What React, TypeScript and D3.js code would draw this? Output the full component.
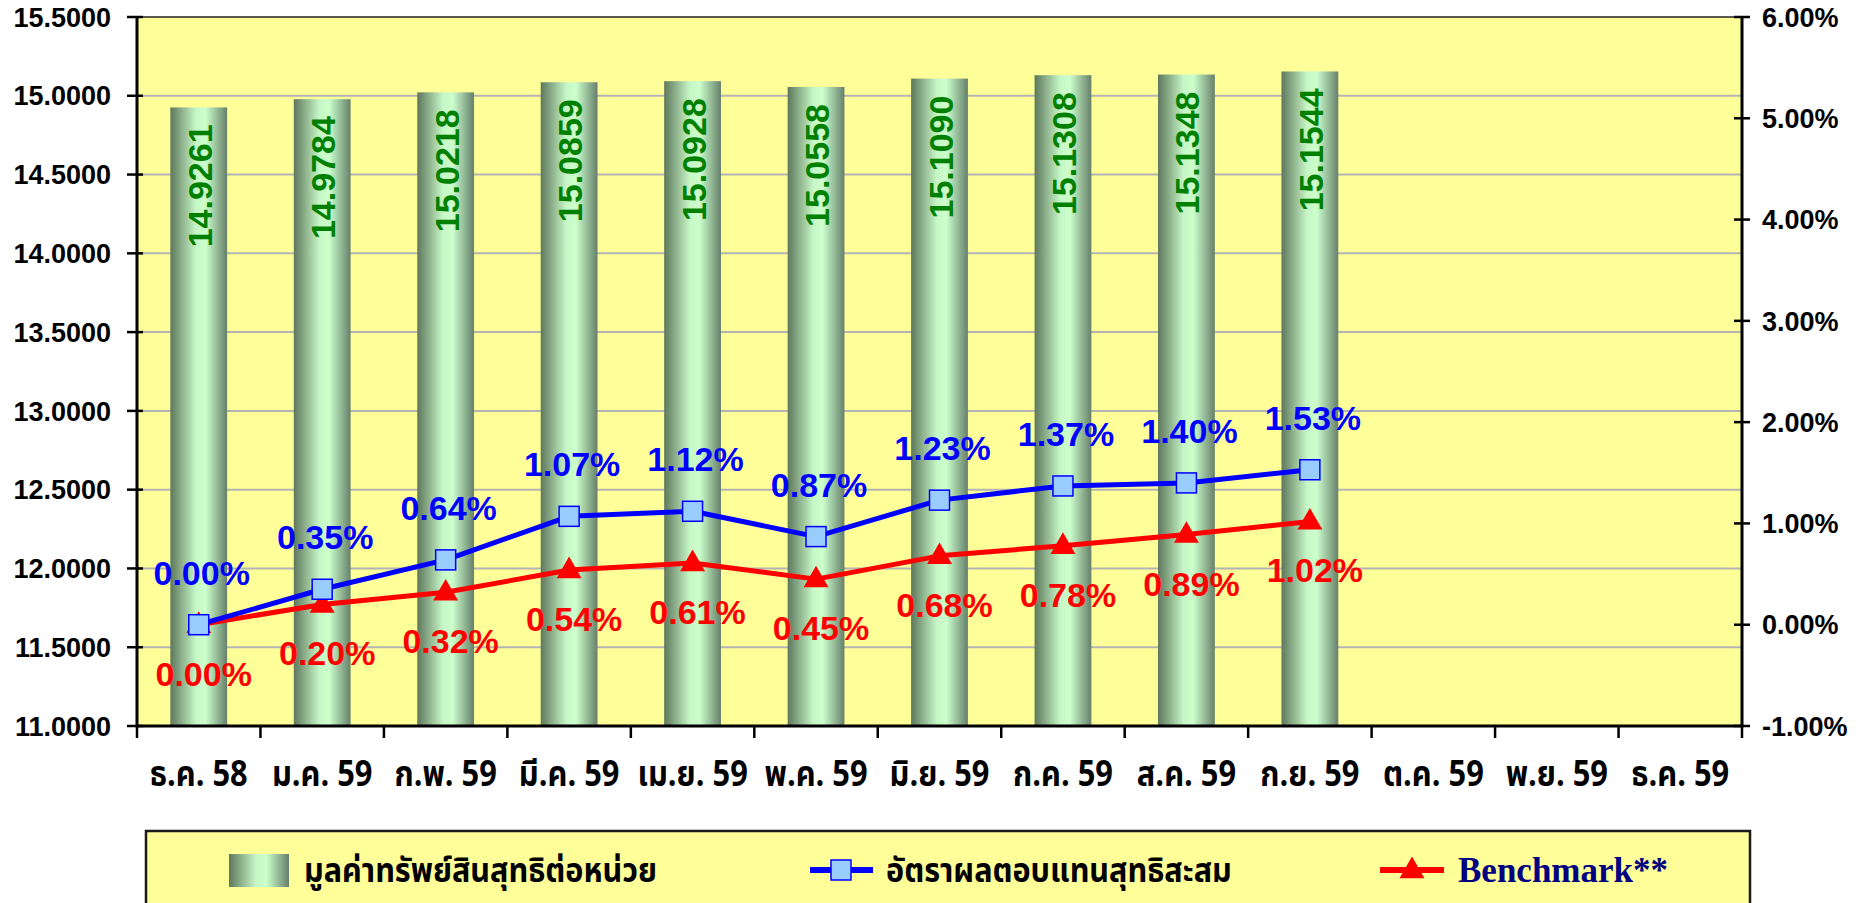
import { useEffect, useRef } from "react"
import * as d3 from "d3"

const categories = [
  "ธ.ค. 58", "ม.ค. 59", "ก.พ. 59", "มี.ค. 59", "เม.ย. 59", "พ.ค. 59", "มิ.ย. 59",
  "ก.ค. 59", "ส.ค. 59", "ก.ย. 59", "ต.ค. 59", "พ.ย. 59", "ธ.ค. 59",
]
const navValues = [14.9261, 14.9784, 15.0218, 15.0859, 15.0928, 15.0558, 15.109, 15.1308, 15.1348, 15.1544]
const returnValues = [0.0, 0.35, 0.64, 1.07, 1.12, 0.87, 1.23, 1.37, 1.4, 1.53]
const benchmarkValues = [0.0, 0.2, 0.32, 0.54, 0.61, 0.45, 0.68, 0.78, 0.89, 1.02]
const leftTicks = [11, 11.5, 12, 12.5, 13, 13.5, 14, 14.5, 15, 15.5]
const rightTicks = [-1, 0, 1, 2, 3, 4, 5, 6]
const legendLabels = ["มูลค่าทรัพย์สินสุทธิต่อหน่วย", "อัตราผลตอบแทนสุทธิสะสม", "Benchmark**"]

const W = 1865
const H = 903
const thaiFont = "'Noto Sans Thai', 'Noto Sans', Tahoma, sans-serif"
const numFont = "'Liberation Sans', Arial, sans-serif"

export default function App() {
  const svgRef = useRef<SVGSVGElement>(null)

  useEffect(() => {
    if (!svgRef.current) return
    const svg = d3.select(svgRef.current)
    svg.selectAll("*").remove()

    const plot = { left: 137, right: 1742, top: 17, bottom: 726 }

    const x = d3.scaleBand().domain(categories).range([plot.left, plot.right]).padding(0)
    const yL = d3.scaleLinear().domain([11, 15.5]).range([plot.bottom, plot.top])
    const yR = d3.scaleLinear().domain([-1, 6]).range([plot.bottom, plot.top])
    const cx = (i: number) => (x(categories[i]) || 0) + x.bandwidth() / 2
    const barW = x.bandwidth() * 0.46

    const defs = svg.append("defs")
    const grad = defs.append("linearGradient").attr("id", "barGrad").attr("x1", "0").attr("x2", "1").attr("y1", "0").attr("y2", "0")
    grad.append("stop").attr("offset", "0").attr("stop-color", "#5e775c")
    grad.append("stop").attr("offset", "0.45").attr("stop-color", "#c6f7c6")
    grad.append("stop").attr("offset", "0.62").attr("stop-color", "#ccffcc")
    grad.append("stop").attr("offset", "1").attr("stop-color", "#66806a")

    // plot background
    svg.append("rect")
      .attr("x", plot.left).attr("y", plot.top)
      .attr("width", plot.right - plot.left).attr("height", plot.bottom - plot.top)
      .attr("fill", "#ffff99")

    // gridlines
    leftTicks.filter((t) => t > 11 && t < 15.5).forEach((t) => {
      svg.append("line")
        .attr("x1", plot.left).attr("x2", plot.right)
        .attr("y1", yL(t)).attr("y2", yL(t))
        .attr("stroke", "#b4b4b4").attr("stroke-width", 2)
    })

    // top border
    svg.append("line")
      .attr("x1", plot.left).attr("x2", plot.right)
      .attr("y1", plot.top).attr("y2", plot.top)
      .attr("stroke", "#222").attr("stroke-width", 1.5)

    // bars
    navValues.forEach((v, i) => {
      svg.append("rect")
        .attr("x", cx(i) - barW / 2).attr("y", yL(v))
        .attr("width", barW).attr("height", plot.bottom - yL(v))
        .attr("fill", "url(#barGrad)")
      svg.append("text")
        .attr("transform", `translate(${cx(i)},${yL(v)}) rotate(-90)`)
        .attr("x", -17).attr("y", 13)
        .attr("text-anchor", "end")
        .attr("fill", "#008000")
        .attr("font-family", numFont).attr("font-weight", "700").attr("font-size", 34)
        .text(v.toFixed(4))
    })

    // axes lines
    svg.append("line").attr("x1", plot.left).attr("x2", plot.left).attr("y1", plot.top).attr("y2", plot.bottom)
      .attr("stroke", "#000").attr("stroke-width", 3)
    svg.append("line").attr("x1", plot.right).attr("x2", plot.right).attr("y1", plot.top).attr("y2", plot.bottom)
      .attr("stroke", "#000").attr("stroke-width", 3)
    svg.append("line").attr("x1", plot.left - 1.5).attr("x2", plot.right + 1.5).attr("y1", plot.bottom).attr("y2", plot.bottom)
      .attr("stroke", "#000").attr("stroke-width", 3)

    // left ticks + labels
    leftTicks.forEach((t) => {
      svg.append("line").attr("x1", plot.left - 10).attr("x2", plot.left + 6).attr("y1", yL(t)).attr("y2", yL(t))
        .attr("stroke", "#000").attr("stroke-width", 2.5)
      svg.append("text")
        .attr("x", 111).attr("y", yL(t))
        .attr("dy", "0.36em")
        .attr("text-anchor", "end")
        .attr("font-family", numFont).attr("font-weight", "700").attr("font-size", 27)
        .attr("fill", "#000")
        .text(t.toFixed(4))
    })

    // right ticks + labels
    rightTicks.forEach((t) => {
      svg.append("line").attr("x1", plot.right - 8).attr("x2", plot.right + 8).attr("y1", yR(t)).attr("y2", yR(t))
        .attr("stroke", "#000").attr("stroke-width", 2.5)
      svg.append("text")
        .attr("x", 1762).attr("y", yR(t))
        .attr("dy", "0.36em")
        .attr("text-anchor", "start")
        .attr("font-family", numFont).attr("font-weight", "700").attr("font-size", 27)
        .attr("fill", "#000")
        .text(`${t.toFixed(2)}%`)
    })

    // bottom ticks + labels
    d3.range(categories.length + 1).forEach((i) => {
      const tx = plot.left + i * x.bandwidth()
      svg.append("line").attr("x1", tx).attr("x2", tx).attr("y1", plot.bottom).attr("y2", plot.bottom + 12)
        .attr("stroke", "#000").attr("stroke-width", 2.5)
    })
    categories.forEach((c, i) => {
      svg.append("text")
        .attr("transform", `translate(${cx(i)},786) scale(0.88,1)`)
        .attr("text-anchor", "middle")
        .attr("font-family", thaiFont).attr("font-weight", "700").attr("font-size", 35)
        .attr("fill", "#000")
        .text(c)
    })

    // lines
    const lineGen = d3.line<number>().x((_, i) => cx(i)).y((d) => yR(d))
    svg.append("path").attr("d", lineGen(benchmarkValues) || "")
      .attr("fill", "none").attr("stroke", "#ff0000").attr("stroke-width", 5).attr("stroke-linejoin", "round")
    svg.append("path").attr("d", lineGen(returnValues) || "")
      .attr("fill", "none").attr("stroke", "#0000ff").attr("stroke-width", 5).attr("stroke-linejoin", "round")

    const tri = d3.symbol().type(d3.symbolTriangle).size(270)
    benchmarkValues.forEach((v, i) => {
      svg.append("path").attr("d", tri() || "")
        .attr("transform", `translate(${cx(i)},${yR(v) + 1})`)
        .attr("fill", "#ff0000")
    })
    returnValues.forEach((v, i) => {
      svg.append("rect")
        .attr("x", cx(i) - 10).attr("y", yR(v) - 10)
        .attr("width", 20).attr("height", 20)
        .attr("fill", "#99ccff").attr("stroke", "#0000ff").attr("stroke-width", 1.5)
    })

    // data labels
    returnValues.forEach((v, i) => {
      svg.append("text")
        .attr("x", cx(i) + 3).attr("y", yR(v) - 40)
        .attr("text-anchor", "middle")
        .attr("font-family", numFont).attr("font-weight", "700").attr("font-size", 34)
        .attr("fill", "#0000ff")
        .text(`${v.toFixed(2)}%`)
    })
    benchmarkValues.forEach((v, i) => {
      svg.append("text")
        .attr("x", cx(i) + 5).attr("y", yR(v) + 61)
        .attr("text-anchor", "middle")
        .attr("font-family", numFont).attr("font-weight", "700").attr("font-size", 34)
        .attr("fill", "#ff0000")
        .text(`${v.toFixed(2)}%`)
    })

    // legend
    const lg = svg.append("g")
    lg.append("rect").attr("x", 146).attr("y", 831).attr("width", 1604).attr("height", 100)
      .attr("fill", "#ffff99").attr("stroke", "#1a1a1a").attr("stroke-width", 2.5)
    const ly = 870
    lg.append("rect").attr("x", 229).attr("y", 854).attr("width", 60).attr("height", 33).attr("fill", "url(#barGrad)")
    lg.append("text").attr("transform", `translate(304,${ly}) scale(0.9,1)`).attr("dy", "0.35em")
      .attr("font-family", thaiFont).attr("font-weight", "700").attr("font-size", 34)
      .text(legendLabels[0])

    lg.append("line").attr("x1", 810).attr("x2", 873).attr("y1", ly).attr("y2", ly)
      .attr("stroke", "#0000ff").attr("stroke-width", 6)
    lg.append("rect").attr("x", 831).attr("y", ly - 10).attr("width", 20).attr("height", 20)
      .attr("fill", "#99ccff").attr("stroke", "#0000ff").attr("stroke-width", 1.5)
    lg.append("text").attr("transform", `translate(886,${ly}) scale(0.9,1)`).attr("dy", "0.35em")
      .attr("font-family", thaiFont).attr("font-weight", "700").attr("font-size", 34)
      .text(legendLabels[1])

    lg.append("line").attr("x1", 1380).attr("x2", 1444).attr("y1", ly).attr("y2", ly)
      .attr("stroke", "#ff0000").attr("stroke-width", 6)
    lg.append("path").attr("d", tri() || "").attr("transform", `translate(1412,${ly + 1})`).attr("fill", "#ff0000")
    lg.append("text").attr("x", 1458).attr("y", ly).attr("dy", "0.35em")
      .attr("font-family", "'Liberation Serif', 'DejaVu Serif', serif").attr("font-weight", "700").attr("font-size", 35)
      .attr("fill", "#000080")
      .text(legendLabels[2])
  }, [])

  return (
    <svg
      ref={svgRef}
      width={W}
      height={H}
      style={{ position: "fixed", left: 0, top: 0, display: "block", background: "#fff" }}
    />
  )
}
